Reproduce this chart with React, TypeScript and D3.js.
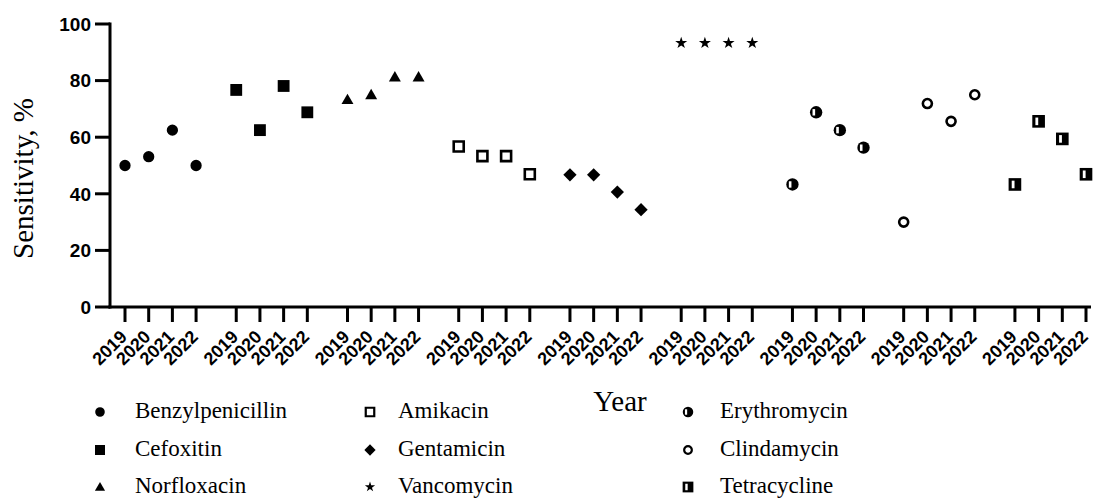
import React from "react";
import * as d3 from "d3";

const years = ["2019", "2020", "2021", "2022"];
const antibiotics = [
  "Benzylpenicillin",
  "Cefoxitin",
  "Norfloxacin",
  "Amikacin",
  "Gentamicin",
  "Vancomycin",
  "Erythromycin",
  "Clindamycin",
  "Tetracycline",
];

// sensitivity, % per year 2019..2022
const benzylpenicillin = [50, 53.1, 62.5, 50];
const cefoxitin = [76.7, 62.5, 78.1, 68.8];
const norfloxacin = [73.3, 75, 81.3, 81.3];
const amikacin = [56.7, 53.3, 53.3, 46.9];
const gentamicin = [46.7, 46.7, 40.6, 34.4];
const vancomycin = [93.3, 93.3, 93.3, 93.3];
const erythromycin = [43.3, 68.8, 62.5, 56.3];
const clindamycin = [30, 71.9, 65.6, 75];
const tetracycline = [43.3, 65.6, 59.4, 46.9];

const yTicks = [0, 20, 40, 60, 80, 100];

const seriesValues = [
  benzylpenicillin,
  cefoxitin,
  norfloxacin,
  amikacin,
  gentamicin,
  vancomycin,
  erythromycin,
  clindamycin,
  tetracycline,
];

const W = 1093;
const H = 500;
const axisX = 110;
const axisY = 307;

const y = d3.scaleLinear().domain([0, 100]).range([axisY, 24]);
const outer = d3
  .scaleBand<string>()
  .domain(antibiotics)
  .range([125, 1086])
  .paddingInner(0.361);
const inner = d3
  .scalePoint<string>()
  .domain(years)
  .range([0, outer.bandwidth()]);

const sym = (type: d3.SymbolType, size: number) => d3.symbol().type(type).size(size)() || "";

function Marker({ name, x, cy, s = 1 }: { name: string; x: number; cy: number; s?: number }) {
  const t = `translate(${x},${cy}) scale(${s})`;
  switch (name) {
    case "Benzylpenicillin":
      return <path transform={t} d={sym(d3.symbolCircle, 100)} fill="#000" />;
    case "Cefoxitin":
      return <path transform={t} d={sym(d3.symbolSquare, 140)} fill="#000" />;
    case "Norfloxacin":
      return <path transform={`${t} translate(0,1)`} d={sym(d3.symbolTriangle, 62)} fill="#000" />;
    case "Amikacin":
      return <path transform={t} d={sym(d3.symbolSquare, 100)} fill="#fff" stroke="#000" strokeWidth={2.6} />;
    case "Gentamicin":
      return <path transform={`${t} rotate(45)`} d={sym(d3.symbolSquare, 88)} fill="#000" />;
    case "Vancomycin":
      return <path transform={t} d={sym(d3.symbolStar, 45)} fill="#000" />;
    case "Erythromycin":
      return (
        <g transform={t}>
          <path d={sym(d3.symbolCircle, 120)} fill="#000" />
          <rect x={-3.6} y={-3.2} width={2.6} height={6.4} fill="#fff" />
        </g>
      );
    case "Clindamycin":
      return <path transform={t} d={sym(d3.symbolCircle, 64)} fill="#fff" stroke="#000" strokeWidth={2.6} />;
    case "Tetracycline":
      return (
        <g transform={t}>
          <path d={sym(d3.symbolSquare, 160)} fill="#000" />
          <rect x={-3.2} y={-3.8} width={2.8} height={7.6} fill="#fff" />
        </g>
      );
    default:
      return null;
  }
}

const legendCols = [
  { mx: 100, tx: 135 },
  { mx: 370, tx: 398 },
  { mx: 688, tx: 720 },
];
const legendRows = [418, 456, 493];

export default function App() {
  const xs = antibiotics.flatMap((a) => years.map((yr) => (outer(a) ?? 0) + (inner(yr) ?? 0)));
  return (
    <svg
      width={W}
      height={H}
      style={{ position: "absolute", left: 0, top: 0, background: "#fff" }}
    >
      {/* y axis */}
      <line x1={axisX} x2={axisX} y1={y(100) - 1.5} y2={axisY + 1.5} stroke="#000" strokeWidth={3} />
      {yTicks.map((t) => (
        <g key={t}>
          <line x1={axisX - 15} x2={axisX} y1={y(t)} y2={y(t)} stroke="#000" strokeWidth={3} />
          <text
            x={axisX - 19}
            y={y(t)}
            dy="0.36em"
            textAnchor="end"
            fontFamily="'Liberation Sans', Arial, sans-serif"
            fontWeight="bold"
            fontSize={19}
          >
            {t}
          </text>
        </g>
      ))}
      <text
        transform={`translate(33,${(y(100) + axisY) / 2 + 13}) rotate(-90)`}
        textAnchor="middle"
        fontFamily="'Liberation Serif', 'Times New Roman', serif"
        fontSize={29}
      >
        Sensitivity, %
      </text>

      {/* x axis */}
      <line x1={axisX - 1.5} x2={1091} y1={axisY} y2={axisY} stroke="#000" strokeWidth={3} />
      {xs.map((x, i) => (
        <g key={i}>
          <line x1={x} x2={x} y1={axisY} y2={axisY + 15} stroke="#000" strokeWidth={3} />
          <text
            transform={`translate(${x + 3},${axisY + 31}) rotate(-45)`}
            textAnchor="end"
            fontFamily="'Liberation Sans', Arial, sans-serif"
            fontWeight="bold"
            fontSize={18}
          >
            {years[i % 4]}
          </text>
        </g>
      ))}
      <text
        x={620}
        y={411}
        textAnchor="middle"
        fontFamily="'Liberation Serif', 'Times New Roman', serif"
        fontSize={29}
      >
        Year
      </text>

      {/* points */}
      {antibiotics.map((a, si) =>
        seriesValues[si].map((v, j) => (
          <Marker key={`${a}-${j}`} name={a} x={(outer(a) ?? 0) + (inner(years[j]) ?? 0)} cy={y(v)} />
        ))
      )}

      {/* legend */}
      {antibiotics.map((a, i) => {
        const col = legendCols[Math.floor(i / 3)];
        const by = legendRows[i % 3];
        return (
          <g key={a}>
            <Marker name={a} x={col.mx} cy={by - 6} s={0.85} />
            <text
              x={col.tx}
              y={by}
              fontFamily="'Liberation Serif', 'Times New Roman', serif"
              fontSize={23}
            >
              {a}
            </text>
          </g>
        );
      })}
    </svg>
  );
}
